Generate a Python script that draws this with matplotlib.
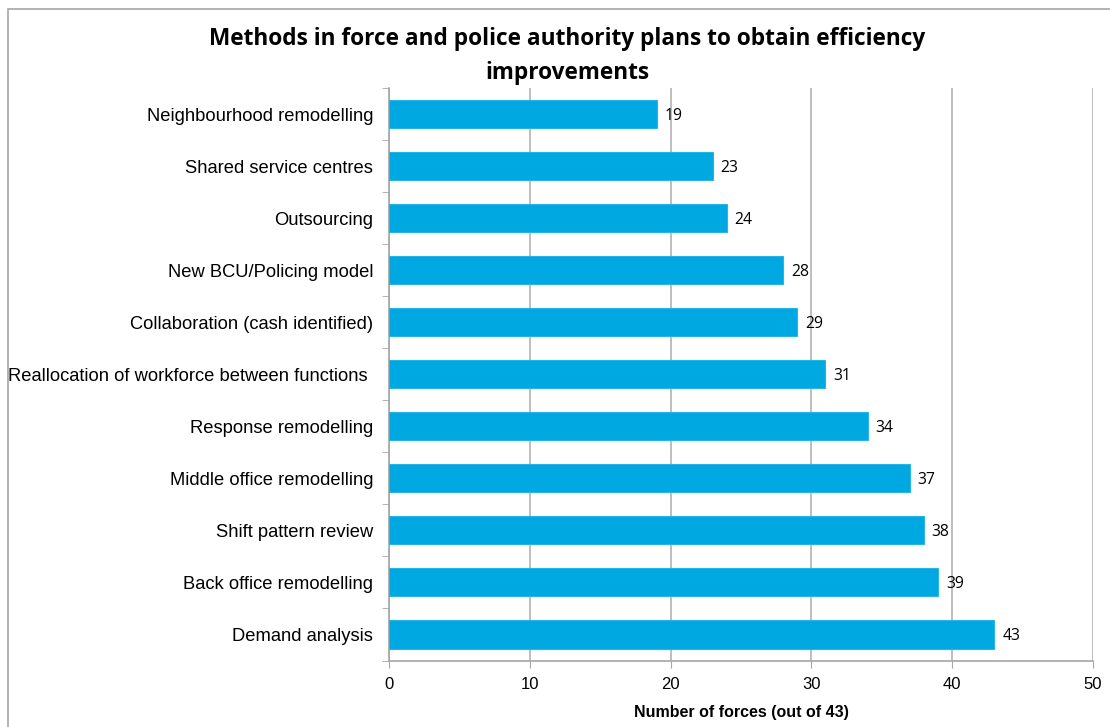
import matplotlib.pyplot as plt
from matplotlib.patches import Rectangle

# data (top to bottom)
methods = ["Neighbourhood remodelling", "Shared service centres", "Outsourcing",
           "New BCU/Policing model", "Collaboration (cash identified)",
           "Reallocation of workforce between functions ", "Response remodelling",
           "Middle office remodelling", "Shift pattern review",
           "Back office remodelling", "Demand analysis"]
forces = [19, 23, 24, 28, 29, 31, 34, 37, 38, 39, 43]
xticks = [0, 10, 20, 30, 40, 50]

W, H = 1110, 727
fig = plt.figure(figsize=(W / 100, H / 100), dpi=100)
ax = fig.add_axes([389 / W, 1 - 660.5 / H, (1093 - 389) / W, (660.5 - 88) / H])

# chart border (only left/top visible in the crop)
fig.patches.append(Rectangle((8 / W, -0.1), 1.2, 1 - 9 / H + 0.1, transform=fig.transFigure,
                             fill=False, edgecolor="#a6a6a6", linewidth=1.2))

ypos = list(range(len(methods)))[::-1]
bars = ax.barh(ypos, forces, height=0.54, color="#00a8e1", edgecolor="#2ab4e6", linewidth=0.8, zorder=3)
for b, v in zip(bars, forces):
    ax.text(b.get_width() + 0.55, b.get_y() + b.get_height() / 2, str(v),
            va="center_baseline", ha="left", fontsize=11.3, family="Open Sans", color="#000000")

ax.set_xlim(0, 50)
ax.set_ylim(-0.5, len(methods) - 0.5)
ax.set_xticks(xticks)
ax.set_yticks(ypos)
ax.set_yticklabels(methods, fontsize=13.2, family="Liberation Sans")
ax.set_yticks([y + 0.5 for y in range(-1, len(methods))], minor=True)
ax.tick_params(axis="y", which="major", length=0, pad=11.5)
ax.tick_params(axis="y", which="minor", length=5, color="#a6a6a6", direction="out")
ax.tick_params(axis="x", length=5, color="#a6a6a6", labelsize=12, pad=7)
for lab in ax.get_xticklabels():
    lab.set_family("Liberation Sans")
ax.grid(axis="x", color="#b3b3b3", linewidth=1.2, zorder=0)
for s in ["top", "right"]:
    ax.spines[s].set_visible(False)
for s in ["left", "bottom"]:
    ax.spines[s].set_color("#a6a6a6")
    ax.spines[s].set_linewidth(1.2)

ax.set_xlabel("Number of forces (out of 43)", fontsize=11.5, fontweight="bold",
              family="Liberation Sans", labelpad=9)
fig.text(567 / W, 1 - 56 / H, "Methods in force and police authority plans to obtain efficiency\nimprovements",
         ha="center", va="center", fontsize=16.3, fontweight="bold", family="Open Sans", linespacing=1.55)

fig.savefig("out.png", dpi=100)
